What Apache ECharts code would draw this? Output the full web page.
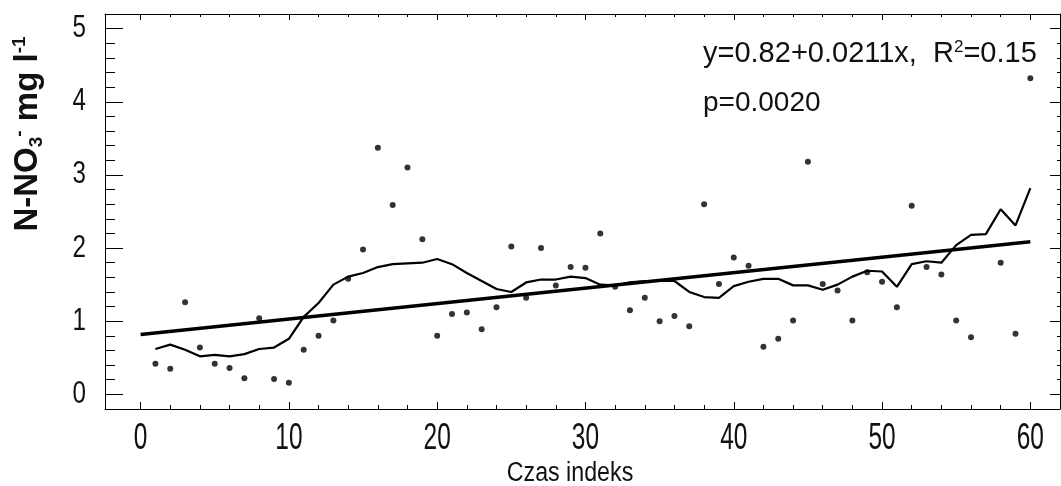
<!DOCTYPE html>
<html>
<head>
<meta charset="utf-8">
<script src="https://cdn.jsdelivr.net/npm/echarts@6/dist/echarts.min.js"></script>
<style>html,body{margin:0;padding:0;background:#fff}#c{width:1061px;height:486px}</style>
</head>
<body>
<div id="c"></div>
<script>
// observed points (x index, N-NO3 mg/l)
const dotX = [1,2,3,4,5,6,7,8,9,10,11,12,13,14,15,16,17,18,19,20,21,22,23,24,25,26,27,28,29,30,31,32,33,34,35,36,37,38,39,40,41,42,43,44,45,46,47,48,49,50,51,52,53,54,55,56,58,59,60];
const dotY = [0.42,0.35,1.26,0.64,0.42,0.36,0.22,1.04,0.21,0.16,0.61,0.80,1.01,1.58,1.98,3.37,2.59,3.10,2.12,0.80,1.10,1.12,0.89,1.19,2.02,1.32,2.00,1.49,1.74,1.73,2.20,1.47,1.15,1.32,1.00,1.07,0.93,2.60,1.51,1.87,1.76,0.65,0.76,1.01,3.18,1.51,1.42,1.01,1.67,1.54,1.19,2.58,1.74,1.64,1.01,0.78,1.80,0.83,4.32];
// smoothed curve
const smoothX = [1,2,3,4,5,6,7,8,9,10,11,12,13,14,15,16,17,18,19,20,21,22,23,24,25,26,27,28,29,30,31,32,33,34,35,36,37,38,39,40,41,42,43,44,45,46,47,48,49,50,51,52,53,54,55,56,57,58,59,60];
const smoothY = [0.62,0.68,0.61,0.52,0.54,0.52,0.55,0.62,0.64,0.76,1.06,1.25,1.50,1.61,1.66,1.74,1.78,1.79,1.80,1.85,1.78,1.66,1.55,1.44,1.40,1.53,1.57,1.57,1.61,1.59,1.50,1.49,1.53,1.55,1.55,1.55,1.40,1.33,1.32,1.48,1.54,1.58,1.58,1.49,1.49,1.43,1.50,1.61,1.69,1.68,1.47,1.78,1.82,1.80,2.04,2.18,2.19,2.53,2.31,2.82];
// regression line y=0.82+0.0211x end points
const trendX = [0, 60];
const trendY = [0.82, 2.086];
// ticks
const xMajor = [0,10,20,30,40,50,60];
const xMinor = [2,4,6,8,12,14,16,18,22,24,26,28,32,34,36,38,42,44,46,48,52,54,56,58];
const yMajor = [0,1,2,3,4,5];
const yMinor = [0.2,0.4,0.6,0.8,1.2,1.4,1.6,1.8,2.2,2.4,2.6,2.8,3.2,3.4,3.6,3.8,4.2,4.4,4.6,4.8];
const xLabels = ['0','10','20','30','40','50','60'];
const yLabels = ['0','1','2','3','4','5'];

const SANS = '"Liberation Sans", Arial, sans-serif';
const chart = echarts.init(document.getElementById('c'), null, {renderer:'canvas'});
function xa(pos, vals, len, showLine){
  return {type:'value', position:pos, min:-2.4, max:62,
    axisLine:{show:showLine, onZero:false, lineStyle:{color:'#000', width:1}},
    axisTick:{show:true, inside:true, length:len, customValues:vals, lineStyle:{color:'#000', width:1}},
    axisLabel:{show:false}, splitLine:{show:false}};
}
function ya(pos, vals, len, showLine){
  return {type:'value', position:pos, min:-0.2, max:5.2,
    axisLine:{show:showLine, onZero:false, lineStyle:{color:'#000', width:1}},
    axisTick:{show:true, inside:true, length:len, customValues:vals, lineStyle:{color:'#000', width:1}},
    axisLabel:{show:false}, splitLine:{show:false}};
}
const baseGraphics = [
  {type:'text', x:28, y:134, rotation:Math.PI/2, style:{
    text:'N-NO{sub|3}{sup|-} mg l{sup|-1}', textAlign:'center', textVerticalAlign:'middle',
    font:'bold 33px ' + SANS, fill:'#111',
    rich:{sub:{font:'bold 19px ' + SANS, verticalAlign:'bottom', lineHeight:36, fill:'#111'},
          sup:{font:'bold 19px ' + SANS, verticalAlign:'top', lineHeight:36, fill:'#111'}}}},
  {type:'text', x:570, y:474, scaleX:0.86, style:{text:'Czas indeks', textAlign:'center', textVerticalAlign:'middle',
    font:'27px ' + SANS, fill:'#111'}},
  {type:'text', x:703, y:54, style:{text:'y=0.82+0.0211x,  R{sup|2}=0.15', textAlign:'left', textVerticalAlign:'middle',
    font:'29px ' + SANS, fill:'#111',
    rich:{sup:{font:'17px ' + SANS, verticalAlign:'top', lineHeight:30, fill:'#111'}}}},
  {type:'text', x:703, y:103, style:{text:'p=0.0020', textAlign:'left', textVerticalAlign:'middle',
    font:'28px ' + SANS, fill:'#111'}}
];
chart.setOption({
  animation:false,
  backgroundColor:'#fff',
  grid:{left:105, right:1, top:14, bottom:77, containLabel:false},
  xAxis:[xa('bottom', xMajor, 7, true), xa('bottom', xMinor, 4, false),
         xa('top', xMajor, 6, true), xa('top', xMinor, 3, false)],
  yAxis:[ya('left', yMajor, 18, true), ya('left', yMinor, 10, false),
         ya('right', yMajor, 10, true), ya('right', yMinor, 3, false)],
  series:[
    {type:'line', xAxisIndex:0, yAxisIndex:0, data:trendX.map((x,i)=>[x,trendY[i]]),
      showSymbol:false, symbol:'none', lineStyle:{color:'#000', width:3.5}, z:3},
    {type:'line', xAxisIndex:0, yAxisIndex:0, data:smoothX.map((x,i)=>[x,smoothY[i]]),
      showSymbol:false, symbol:'none', lineStyle:{color:'#000', width:2.2}, z:4},
    {type:'scatter', xAxisIndex:0, yAxisIndex:0, data:dotX.map((x,i)=>[x,dotY[i]]),
      symbol:'circle', symbolSize:6, itemStyle:{color:'#000'}, z:5}
  ],
  graphic: baseGraphics
});
// condensed tick labels placed through the axes' own scales
const tickGraphics = [];
xMajor.forEach((v,i)=>{
  const px = chart.convertToPixel({xAxisIndex:0}, v);
  tickGraphics.push({type:'text', x:px, y:439, scaleX:0.68, style:{text:xLabels[i], textAlign:'center',
    textVerticalAlign:'middle', font:'36px ' + SANS, fill:'#111'}});
});
yMajor.forEach((v,i)=>{
  const py = chart.convertToPixel({yAxisIndex:0}, v);
  tickGraphics.push({type:'text', x:86, y:py, scaleX:0.78, style:{text:yLabels[i], textAlign:'right',
    textVerticalAlign:'middle', font:'31px ' + SANS, fill:'#111'}});
});
chart.setOption({graphic: baseGraphics.concat(tickGraphics)});
</script>
</body>
</html>
